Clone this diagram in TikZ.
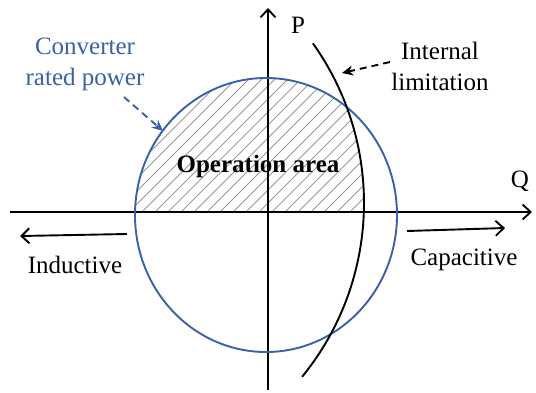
\documentclass[tikz,border=0pt]{standalone}
\usepackage{fontspec}
\setmainfont{Liberation Serif}
\usetikzlibrary{arrows.meta}
\definecolor{cblue}{RGB}{58,96,168}
\definecolor{hatch}{RGB}{150,150,150}
\begin{document}
\begin{tikzpicture}[x=1pt,y=-1pt,
  lbl/.style={font=\fontsize{25}{31}\selectfont, align=center, inner sep=0pt},
  axis/.style={line width=1.9pt, -{Straight Barb[length=8pt,width=15pt]}},
  dasharrow/.style={line width=1.9pt, dash pattern=on 7pt off 5pt, -{Stealth[length=11pt,width=10pt]}}]
\useasboundingbox (0,0) rectangle (536,392);
% hatched operation area
\begin{scope}
  \clip (266,215) ellipse [x radius=131, y radius=137];
  \clip (0,0) rectangle (536,212);
  \clip (89,203) circle (275);
  \foreach \i in {-300,-287,...,600} \draw[hatch, line width=1pt] (\i,212) -- ++(230,-230);
\end{scope}
% axes
\draw[axis] (10,212) -- (532,212);
\draw[axis] (268,390) -- (268,8);
% converter rated power circle
\draw[cblue, line width=1.9pt] (266,215) ellipse [x radius=131, y radius=137];
% internal limitation arc
\draw[line width=1.9pt] (89,203) ++(-35.5:275) arc[start angle=-35.5, end angle=39.2, radius=275];
% labels
\node[lbl, text=cblue] (conv) at (85,64) {Converter\\rated power};
\node[lbl] (intl) at (440,66) {Internal\\limitation};
\node[lbl] (P) at (298,25) {P};
\node[lbl] (Q) at (520,181) {Q};
\node[lbl, font=\bfseries\fontsize{25}{30}\selectfont] (op) at (258,166) {Operation area};
\node[lbl] (ind) at (75,265) {Inductive};
\node[lbl] (cap) at (464,260) {Capacitive};
% pointer arrows
\coordinate (c1) at (124,97);
\coordinate (c2) at (163,131);
\coordinate (i1) at (390,62);
\coordinate (i2) at (342,73);
\draw[dasharrow, cblue] (c1) -- (c2);
\draw[dasharrow] (i1) -- (i2);
% direction arrows
\coordinate (l1) at (127,234);
\coordinate (l2) at (20,236);
\coordinate (r1) at (407,231);
\coordinate (r2) at (505,228);
\draw[axis] (l1) -- (l2);
\draw[axis] (r1) -- (r2);
\end{tikzpicture}
\end{document}
